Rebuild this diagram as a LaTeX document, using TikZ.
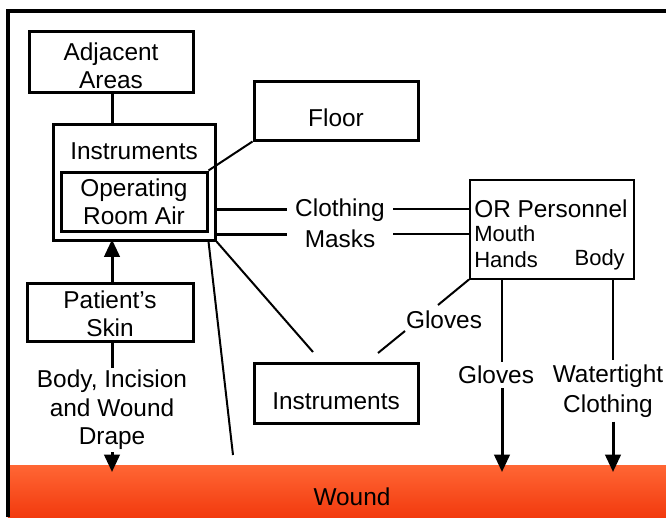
\documentclass[tikz,border=0pt]{standalone}
\usepackage{fontspec}
\setmainfont{Liberation Sans}
\usetikzlibrary{arrows.meta}
\definecolor{woundtop}{HTML}{FF6634}
\definecolor{woundbot}{HTML}{F23A0E}
\begin{document}
\begin{tikzpicture}[x=0.75pt,y=-0.75pt,
  txt/.style={font=\fontsize{18.3}{21.3}\selectfont, inner sep=0pt, align=center},
  smalltxt/.style={font=\fontsize{16.5}{19}\selectfont, inner sep=0pt},
  box/.style={draw, line width=2.25pt},
  thin/.style={line width=1.5pt},
  thick3/.style={line width=2.25pt},
  arr/.style={line width=2.25pt, -{Triangle[width=11.5pt,length=13pt]}}]
\useasboundingbox (0,0) rectangle (666,517);
\fill[white] (0,0) rectangle (666,517);
% wound
\node[inner sep=0pt, minimum width=658.5*0.75pt, minimum height=52*0.75pt,
  top color=woundtop, bottom color=woundbot, anchor=north west] (wound) at (7.5,465) {};
\node[txt] (woundtext) at (352,497) {Wound};
% frame
\draw[line width=3pt] (7.5,517) -- (7.5,11) -- (666,11);
% boxes
\node[box, minimum width=123pt, minimum height=45pt] (adj) at (111,62) {};
\node[txt] (adjtext) at (111,66) {Adjacent\\Areas};
\node[box, minimum width=121.5pt, minimum height=87pt] (outer) at (134,182) {};
\node[txt] (instrtop) at (134,151) {Instruments};
\node[box, minimum width=109.5pt, minimum height=44.25pt] (air) at (134,201.5) {};
\node[txt] (airtext) at (134,202) {Operating\\Room Air};
\node[box, minimum width=123pt, minimum height=44.25pt] (floor) at (336,110.5) {};
\node[txt] (floortext) at (336,118) {Floor};
\node[box, minimum width=124.5pt, minimum height=43.5pt] (skin) at (110,312) {};
\node[txt] (skintext) at (110,314) {Patient’s\\Skin};
\node[box, minimum width=123pt, minimum height=45pt] (instr) at (336,393) {};
\node[txt] (instrtext) at (336,401) {Instruments};
\node[draw, line width=1.5pt, minimum width=123pt, minimum height=74.25pt] (orp) at (552,229) {};
\node[txt, anchor=west] (ortext) at (474,209) {OR Personnel};
\node[smalltxt, anchor=west] (mouth) at (474,234) {Mouth};
\node[smalltxt, anchor=west] (hands) at (474,260) {Hands};
\node[smalltxt, anchor=east] (body) at (625,260) {Body};
% labels
\node[txt, minimum width=79.5pt] (clothing) at (340,210) {Clothing};
\node[txt, minimum width=79.5pt] (masks) at (340,239) {Masks};
\node[txt] (drape) at (112,410) {Body, Incision\\and Wound\\Drape};
\node[txt] (glovesd) at (444,320) {Gloves};
\node[txt] (glovesh) at (496,375) {Gloves};
\node[txt, font=\fontsize{18.3}{22.5}\selectfont] (water) at (608,391) {Watertight\\Clothing};
% coordinates
\coordinate (cl) at (0,209);
\coordinate (ms) at (0,234);
\coordinate (wA) at (233,455);
\coordinate (iB) at (313,352);
\coordinate (g1) at (438,305);
\coordinate (g2) at (405,331);
\coordinate (g3) at (378,353);
\coordinate (hx) at (502,0);
\coordinate (bx) at (613,0);
\coordinate (tipd) at (112,472);
\coordinate (tiph) at (502,472);
\coordinate (tipb) at (613,472);
% connectors
\draw[thick3] (adj.south -| 112,0) -- (outer.north -| 112,0);
\draw[thin] (floor.south west) -- (air.north east);
\draw[thick3] (outer.east |- cl) -- (clothing.west |- cl);
\draw[thin] (clothing.east |- cl) -- (orp.west |- cl);
\draw[thick3] (outer.east |- ms) -- (masks.west |- ms);
\draw[thin] (masks.east |- ms) -- (orp.west |- ms);
\draw[thin] (air.south east |- outer.south) -- (wA);
\draw[thin] (outer.south east) -- (iB);
\draw[arr] (skin.north -| 112,0) -- ([yshift=1.5pt]outer.south -| 112,0);
\draw[thick3] (skin.south -| 112,0) -- ([yshift=1.5pt]drape.north -| 112,0);
\draw[arr] ([yshift=-1.5pt]drape.south -| 112,0) -- (tipd);
\draw[thin] (orp.south west) -- (g1);
\draw[thin] (g2) -- (g3);
\draw[thin] (orp.south -| hx) -- ([yshift=3pt]glovesh.north -| hx);
\draw[arr] ([yshift=-3pt]glovesh.south -| hx) -- (tiph);
\draw[thin] (orp.south -| bx) -- ([yshift=3pt]water.north -| bx);
\draw[arr] ([yshift=-3pt]water.south -| bx) -- (tipb);
\end{tikzpicture}
\end{document}
